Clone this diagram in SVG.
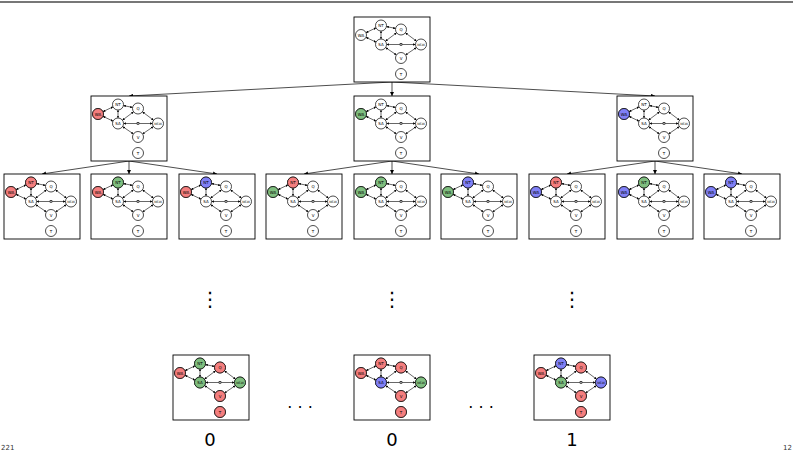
<svg xmlns="http://www.w3.org/2000/svg" xmlns:xlink="http://www.w3.org/1999/xlink" width="793" height="454" viewBox="0 0 793 454">
<style>
.bx{fill:#fff;stroke:#000;stroke-width:0.9}
.e{stroke:#000;stroke-width:0.6;fill:none;marker-start:url(#ea);marker-end:url(#ea)}
.c{fill:#fff;stroke:#000;stroke-width:0.7}
.R{fill:#f47e7e;stroke:#000;stroke-width:0.7}
.G{fill:#7fbe7f;stroke:#000;stroke-width:0.7}
.B{fill:#8080f6;stroke:#000;stroke-width:0.7}
text{font-family:"DejaVu Sans","Liberation Sans",sans-serif}
.l{font-size:4px;text-anchor:middle;dominant-baseline:central}
.s{font-size:3.2px}
.t{stroke:#000;stroke-width:0.7;fill:none;marker-end:url(#ta)}
.dt{font-size:20px;text-anchor:middle}
.hd{font-size:16px;text-anchor:middle}
.v{font-size:18px;text-anchor:middle}
.pg{font-size:7px;fill:#333}
</style>
<defs>
<marker id="ea" viewBox="0 0 4 4" refX="4" refY="2" markerWidth="2.4" markerHeight="2.4" markerUnits="userSpaceOnUse" orient="auto-start-reverse"><path d="M0,0L4,2L0,4z" fill="#000"/></marker>
<marker id="ta" viewBox="0 0 6 6" refX="6" refY="3" markerWidth="4" markerHeight="4" markerUnits="userSpaceOnUse" orient="auto"><path d="M0,0L6,3L0,6z" fill="#000"/></marker>
<g id="box">
<rect class="bx" x="0" y="0" width="76" height="65"/>
<line class="e" x1="11.97" y1="15.64" x2="22.03" y2="10.86"/>
<line class="e" x1="11.97" y1="20.36" x2="22.03" y2="25.14"/>
<line class="e" x1="27" y1="14" x2="27" y2="22"/>
<line class="e" x1="32.39" y1="9.58" x2="41.61" y2="11.42"/>
<line class="e" x1="31.4" y1="24.2" x2="42.6" y2="15.8"/>
<line class="e" x1="32.5" y1="27.5" x2="61.5" y2="27.5"/>
<line class="e" x1="51.4" y1="15.8" x2="62.6" y2="24.2"/>
<line class="e" x1="31.56" y1="30.58" x2="42.44" y2="37.92"/>
<line class="e" x1="51.56" y1="37.92" x2="62.44" y2="30.58"/>
<rect x="46.1" y="26.6" width="1.8" height="1.8" fill="#fff" stroke="#000" stroke-width="0.6"/>
<circle class="c" cx="7" cy="18" r="5.5"/>
<circle class="c" cx="27" cy="8.5" r="5.5"/>
<circle class="c" cx="47" cy="12.5" r="5.5"/>
<circle class="c" cx="27" cy="27.5" r="5.5"/>
<circle class="c" cx="67" cy="27.5" r="5.5"/>
<circle class="c" cx="47" cy="41" r="5.5"/>
<circle class="c" cx="47" cy="57" r="5.5"/>
</g>
</defs>
<line x1="0" y1="2" x2="793" y2="2" stroke="#777" stroke-width="2"/>
<g id="connectors">
<line class="t" x1="392" y1="82" x2="129" y2="96"/>
<line class="t" x1="392" y1="82" x2="392" y2="96"/>
<line class="t" x1="392" y1="82" x2="655" y2="96"/>
<line class="t" x1="129" y1="161" x2="42" y2="174"/>
<line class="t" x1="129" y1="161" x2="129" y2="174"/>
<line class="t" x1="129" y1="161" x2="217" y2="174"/>
<line class="t" x1="392" y1="161" x2="304" y2="174"/>
<line class="t" x1="392" y1="161" x2="392" y2="174"/>
<line class="t" x1="392" y1="161" x2="479" y2="174"/>
<line class="t" x1="655" y1="161" x2="567" y2="174"/>
<line class="t" x1="655" y1="161" x2="655" y2="174"/>
<line class="t" x1="655" y1="161" x2="742" y2="174"/>
</g>
<g id="root" transform="translate(354,17)"><use href="#box"/>
<text class="l" x="7" y="18">WA</text><text class="l" x="27" y="8.5">NT</text><text class="l" x="47" y="12.5">Q</text><text class="l" x="27" y="27.5">SA</text><text class="l s" x="67" y="27.5">NSW</text><text class="l" x="47" y="41">V</text><text class="l" x="47" y="57">T</text></g>
<g id="a1" transform="translate(91,96)"><use href="#box"/><circle class="R" cx="7" cy="18" r="5.5"/>
<text class="l" x="7" y="18">WA</text><text class="l" x="27" y="8.5">NT</text><text class="l" x="47" y="12.5">Q</text><text class="l" x="27" y="27.5">SA</text><text class="l s" x="67" y="27.5">NSW</text><text class="l" x="47" y="41">V</text><text class="l" x="47" y="57">T</text></g>
<g id="a2" transform="translate(354,96)"><use href="#box"/><circle class="G" cx="7" cy="18" r="5.5"/>
<text class="l" x="7" y="18">WA</text><text class="l" x="27" y="8.5">NT</text><text class="l" x="47" y="12.5">Q</text><text class="l" x="27" y="27.5">SA</text><text class="l s" x="67" y="27.5">NSW</text><text class="l" x="47" y="41">V</text><text class="l" x="47" y="57">T</text></g>
<g id="a3" transform="translate(617,96)"><use href="#box"/><circle class="B" cx="7" cy="18" r="5.5"/>
<text class="l" x="7" y="18">WA</text><text class="l" x="27" y="8.5">NT</text><text class="l" x="47" y="12.5">Q</text><text class="l" x="27" y="27.5">SA</text><text class="l s" x="67" y="27.5">NSW</text><text class="l" x="47" y="41">V</text><text class="l" x="47" y="57">T</text></g>
<g id="b1" transform="translate(4,174)"><use href="#box"/><circle class="R" cx="7" cy="18" r="5.5"/><circle class="R" cx="27" cy="8.5" r="5.5"/>
<text class="l" x="7" y="18">WA</text><text class="l" x="27" y="8.5">NT</text><text class="l" x="47" y="12.5">Q</text><text class="l" x="27" y="27.5">SA</text><text class="l s" x="67" y="27.5">NSW</text><text class="l" x="47" y="41">V</text><text class="l" x="47" y="57">T</text></g>
<g id="b2" transform="translate(91,174)"><use href="#box"/><circle class="R" cx="7" cy="18" r="5.5"/><circle class="G" cx="27" cy="8.5" r="5.5"/>
<text class="l" x="7" y="18">WA</text><text class="l" x="27" y="8.5">NT</text><text class="l" x="47" y="12.5">Q</text><text class="l" x="27" y="27.5">SA</text><text class="l s" x="67" y="27.5">NSW</text><text class="l" x="47" y="41">V</text><text class="l" x="47" y="57">T</text></g>
<g id="b3" transform="translate(179,174)"><use href="#box"/><circle class="R" cx="7" cy="18" r="5.5"/><circle class="B" cx="27" cy="8.5" r="5.5"/>
<text class="l" x="7" y="18">WA</text><text class="l" x="27" y="8.5">NT</text><text class="l" x="47" y="12.5">Q</text><text class="l" x="27" y="27.5">SA</text><text class="l s" x="67" y="27.5">NSW</text><text class="l" x="47" y="41">V</text><text class="l" x="47" y="57">T</text></g>
<g id="b4" transform="translate(266,174)"><use href="#box"/><circle class="G" cx="7" cy="18" r="5.5"/><circle class="R" cx="27" cy="8.5" r="5.5"/>
<text class="l" x="7" y="18">WA</text><text class="l" x="27" y="8.5">NT</text><text class="l" x="47" y="12.5">Q</text><text class="l" x="27" y="27.5">SA</text><text class="l s" x="67" y="27.5">NSW</text><text class="l" x="47" y="41">V</text><text class="l" x="47" y="57">T</text></g>
<g id="b5" transform="translate(354,174)"><use href="#box"/><circle class="G" cx="7" cy="18" r="5.5"/><circle class="G" cx="27" cy="8.5" r="5.5"/>
<text class="l" x="7" y="18">WA</text><text class="l" x="27" y="8.5">NT</text><text class="l" x="47" y="12.5">Q</text><text class="l" x="27" y="27.5">SA</text><text class="l s" x="67" y="27.5">NSW</text><text class="l" x="47" y="41">V</text><text class="l" x="47" y="57">T</text></g>
<g id="b6" transform="translate(441,174)"><use href="#box"/><circle class="G" cx="7" cy="18" r="5.5"/><circle class="B" cx="27" cy="8.5" r="5.5"/>
<text class="l" x="7" y="18">WA</text><text class="l" x="27" y="8.5">NT</text><text class="l" x="47" y="12.5">Q</text><text class="l" x="27" y="27.5">SA</text><text class="l s" x="67" y="27.5">NSW</text><text class="l" x="47" y="41">V</text><text class="l" x="47" y="57">T</text></g>
<g id="b7" transform="translate(529,174)"><use href="#box"/><circle class="B" cx="7" cy="18" r="5.5"/><circle class="R" cx="27" cy="8.5" r="5.5"/>
<text class="l" x="7" y="18">WA</text><text class="l" x="27" y="8.5">NT</text><text class="l" x="47" y="12.5">Q</text><text class="l" x="27" y="27.5">SA</text><text class="l s" x="67" y="27.5">NSW</text><text class="l" x="47" y="41">V</text><text class="l" x="47" y="57">T</text></g>
<g id="b8" transform="translate(617,174)"><use href="#box"/><circle class="B" cx="7" cy="18" r="5.5"/><circle class="G" cx="27" cy="8.5" r="5.5"/>
<text class="l" x="7" y="18">WA</text><text class="l" x="27" y="8.5">NT</text><text class="l" x="47" y="12.5">Q</text><text class="l" x="27" y="27.5">SA</text><text class="l s" x="67" y="27.5">NSW</text><text class="l" x="47" y="41">V</text><text class="l" x="47" y="57">T</text></g>
<g id="b9" transform="translate(704,174)"><use href="#box"/><circle class="B" cx="7" cy="18" r="5.5"/><circle class="B" cx="27" cy="8.5" r="5.5"/>
<text class="l" x="7" y="18">WA</text><text class="l" x="27" y="8.5">NT</text><text class="l" x="47" y="12.5">Q</text><text class="l" x="27" y="27.5">SA</text><text class="l s" x="67" y="27.5">NSW</text><text class="l" x="47" y="41">V</text><text class="l" x="47" y="57">T</text></g>
<g id="c1" transform="translate(173,355)"><use href="#box"/><circle class="R" cx="7" cy="18" r="5.5"/><circle class="G" cx="27" cy="8.5" r="5.5"/><circle class="R" cx="47" cy="12.5" r="5.5"/><circle class="G" cx="27" cy="27.5" r="5.5"/><circle class="G" cx="67" cy="27.5" r="5.5"/><circle class="R" cx="47" cy="41" r="5.5"/><circle class="R" cx="47" cy="57" r="5.5"/>
<text class="l" x="7" y="18">WA</text><text class="l" x="27" y="8.5">NT</text><text class="l" x="47" y="12.5">Q</text><text class="l" x="27" y="27.5">SA</text><text class="l s" x="67" y="27.5">NSW</text><text class="l" x="47" y="41">V</text><text class="l" x="47" y="57">T</text></g>
<g id="c2" transform="translate(354,355)"><use href="#box"/><circle class="R" cx="7" cy="18" r="5.5"/><circle class="R" cx="27" cy="8.5" r="5.5"/><circle class="R" cx="47" cy="12.5" r="5.5"/><circle class="B" cx="27" cy="27.5" r="5.5"/><circle class="G" cx="67" cy="27.5" r="5.5"/><circle class="R" cx="47" cy="41" r="5.5"/><circle class="R" cx="47" cy="57" r="5.5"/>
<text class="l" x="7" y="18">WA</text><text class="l" x="27" y="8.5">NT</text><text class="l" x="47" y="12.5">Q</text><text class="l" x="27" y="27.5">SA</text><text class="l s" x="67" y="27.5">NSW</text><text class="l" x="47" y="41">V</text><text class="l" x="47" y="57">T</text></g>
<g id="c3" transform="translate(534,355)"><use href="#box"/><circle class="R" cx="7" cy="18" r="5.5"/><circle class="B" cx="27" cy="8.5" r="5.5"/><circle class="R" cx="47" cy="12.5" r="5.5"/><circle class="G" cx="27" cy="27.5" r="5.5"/><circle class="B" cx="67" cy="27.5" r="5.5"/><circle class="R" cx="47" cy="41" r="5.5"/><circle class="R" cx="47" cy="57" r="5.5"/>
<text class="l" x="7" y="18">WA</text><text class="l" x="27" y="8.5">NT</text><text class="l" x="47" y="12.5">Q</text><text class="l" x="27" y="27.5">SA</text><text class="l s" x="67" y="27.5">NSW</text><text class="l" x="47" y="41">V</text><text class="l" x="47" y="57">T</text></g>
<text class="dt" x="210" y="306">⋮</text>
<text class="dt" x="392" y="306">⋮</text>
<text class="dt" x="572" y="306">⋮</text>
<text class="hd" x="300" y="413">· · ·</text>
<text class="hd" x="481" y="413">· · ·</text>
<text class="v" x="210" y="446">0</text>
<text class="v" x="392" y="446">0</text>
<text class="v" x="572" y="446">1</text>
<text class="pg" x="1" y="450">221</text>
<text class="pg" x="792" y="450" text-anchor="end">12</text>
</svg>
